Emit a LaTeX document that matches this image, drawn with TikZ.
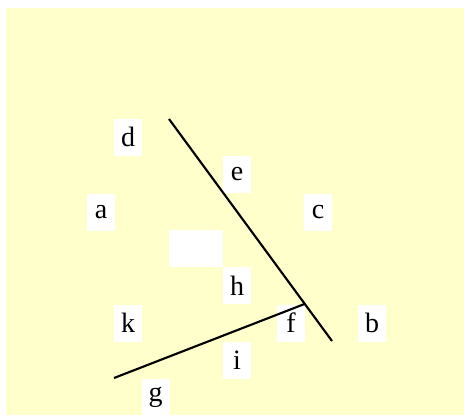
\documentclass[tikz,border=0pt]{standalone}
\usepackage{fontspec}
\setmainfont{Liberation Serif}
\definecolor{bgyellow}{HTML}{FFFFCC}
\begin{document}
\begin{tikzpicture}[x=0.75pt,y=-0.75pt,
  lbl/.style={fill=white,inner sep=0pt,minimum width=21pt,minimum height=27.75pt,font=\fontsize{21}{24}\selectfont},
  seg/.style={line width=1.6pt}]
\useasboundingbox (0,0) rectangle (464,415);
\fill[bgyellow] (6,8) rectangle (464,415);
\node[lbl] (d) at (128,137) {d};
\node[lbl] (e) at (237,174) {e};
\node[lbl] (a) at (101,212) {a};
\node[lbl] (c) at (318,212) {c};
\node[lbl,minimum width=40.5pt] (blank) at (196,248.5) {};
\node[lbl] (h) at (237,285.5) {h};
\node[lbl] (k) at (128,323) {k};
\node[lbl] (f) at (291,323) {f};
\node[lbl] (b) at (372,323) {b};
\node[lbl] (i) at (237,360) {i};
\node[lbl] (g) at (155.5,397) {g};
\coordinate (p1) at (169,119);
\coordinate (p2) at (332,341);
\coordinate (q1) at (114,378);
\coordinate (q2) at (304.5,304);
\draw[seg] (p1) -- (p2);
\draw[seg] (q1) -- (q2);
\end{tikzpicture}
\end{document}
